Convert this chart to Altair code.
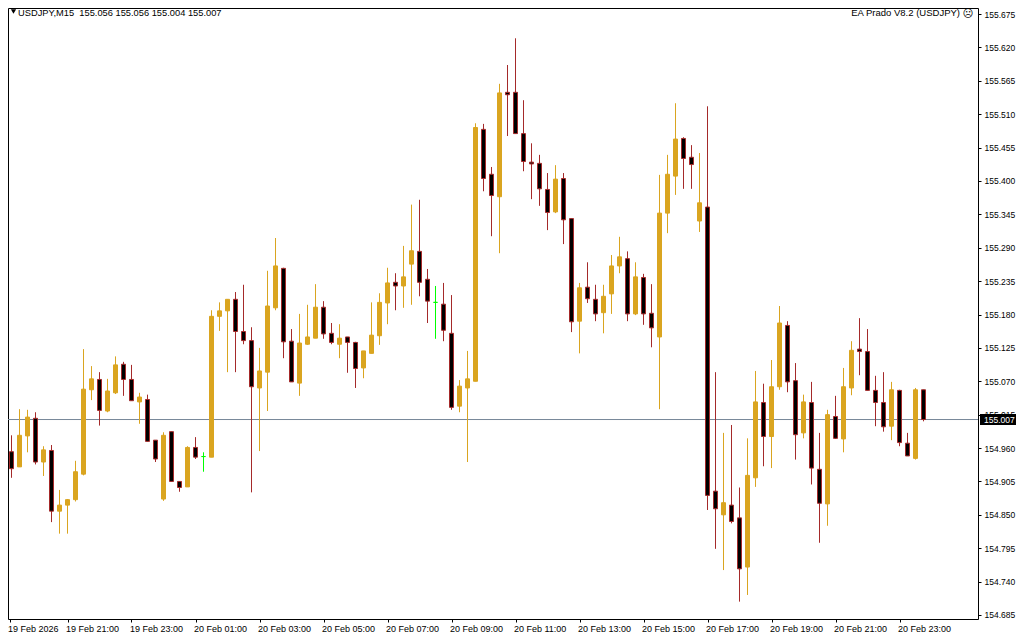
import altair as alt
import pandas as pd

opens = [154.957,154.954,154.929,154.980,155.009,154.937,154.956,154.856,154.866,154.875,
154.917,155.056,155.073,155.021,155.051,155.098,155.073,155.036,155.040,154.973,
154.876,154.987,154.905,154.896,154.961,154.946,154.945,155.177,155.186,155.205,
155.152,155.137,155.059,155.085,155.191,155.256,155.136,155.067,155.131,155.141,
155.192,155.149,155.131,155.143,155.134,155.092,155.116,155.145,155.199,155.233,
155.227,155.263,155.284,155.238,155.200,155.197,155.149,155.029,155.059,155.070,
155.485,155.411,155.374,155.546,155.546,155.478,155.431,155.429,155.386,155.349,
155.404,155.338,155.169,155.225,155.205,155.183,155.214,155.260,155.272,155.181,
155.241,155.182,155.143,155.347,155.408,155.470,155.439,155.334,155.357,154.889,
154.850,154.866,154.845,154.764,154.911,155.035,154.979,155.061,155.162,155.071,
154.985,155.035,154.925,154.868,155.012,154.975,155.059,155.123,155.119,155.055,
155.035,154.996,155.055,154.968,154.943,155.056]
closes = [154.953,154.926,154.981,155.011,154.937,154.957,154.856,154.866,154.875,154.921,
155.057,155.074,155.022,155.054,155.097,155.073,155.038,155.044,154.971,154.942,
154.981,154.905,154.895,154.961,154.945,154.946,155.177,155.186,155.205,155.152,
155.137,155.061,155.087,155.194,155.260,155.135,155.069,155.133,155.143,155.192,
155.148,155.134,155.141,155.134,155.091,155.120,155.146,155.200,155.232,155.227,
155.242,155.285,155.233,155.202,155.200,155.154,155.027,155.062,155.074,155.488,
155.404,155.376,155.545,155.542,155.478,155.432,155.428,155.387,155.348,155.403,
155.336,155.168,155.224,155.206,155.181,155.210,155.260,155.275,155.181,155.242,
155.181,155.158,155.347,155.411,155.469,155.437,155.427,155.364,154.882,154.860,
154.870,154.839,154.761,154.915,155.036,154.979,155.061,155.166,155.069,154.982,
155.036,154.927,154.869,155.015,154.976,155.061,155.121,155.119,155.055,155.035,
154.995,155.056,154.969,154.947,155.056,155.007]
highs = [154.984,154.981,155.024,155.023,155.019,154.963,154.965,154.891,154.876,154.939,
155.123,155.095,155.085,155.074,155.111,155.102,155.097,155.051,155.048,154.973,
154.986,154.987,154.905,154.963,154.978,154.953,155.187,155.200,155.205,155.217,
155.229,155.159,155.125,155.252,155.306,155.257,155.156,155.181,155.196,155.230,
155.202,155.166,155.164,155.143,155.135,155.120,155.200,155.215,155.257,155.248,
155.293,155.361,155.369,155.255,155.227,155.232,155.212,155.072,155.120,155.495,
155.494,155.423,155.560,155.591,155.635,155.533,155.462,155.443,155.413,155.426,
155.413,155.338,155.232,155.266,155.229,155.229,155.278,155.308,155.284,155.266,
155.247,155.230,155.410,155.443,155.528,155.472,155.459,155.446,155.523,155.085,
154.985,154.998,154.895,154.976,155.087,155.066,155.105,155.194,155.169,155.100,
155.048,155.069,154.985,155.023,155.046,155.092,155.136,155.174,155.156,155.079,
155.085,155.069,155.056,154.985,155.059,155.056]
lows = [154.927,154.911,154.929,154.953,154.933,154.914,154.838,154.819,154.819,154.872,
154.915,155.039,154.997,155.019,155.049,155.046,155.038,155.000,154.971,154.937,
154.873,154.905,154.888,154.896,154.942,154.921,154.945,155.153,155.085,155.085,
155.131,154.887,154.955,155.021,155.187,155.108,155.069,155.046,155.130,155.141,
155.140,155.131,155.108,155.084,155.059,155.075,155.116,155.130,155.164,155.187,
155.191,155.196,155.210,155.166,155.140,155.136,155.023,155.019,154.937,155.070,
155.383,155.309,155.281,155.474,155.478,155.416,155.370,155.359,155.319,155.347,
155.296,155.151,155.116,155.199,155.169,155.149,155.181,155.248,155.169,155.179,
155.163,155.126,155.024,155.314,155.377,155.387,155.387,155.316,154.858,154.794,
154.759,154.836,154.707,154.718,154.896,154.930,154.927,155.056,155.052,154.941,
154.976,154.900,154.804,154.832,154.975,154.953,155.047,155.080,155.055,154.996,
154.987,154.973,154.963,154.947,154.941,155.004]

price_ticks = [155.675,155.620,155.565,155.510,155.455,155.400,155.345,155.290,155.235,
155.180,155.125,155.070,155.015,154.960,154.905,154.850,154.795,154.740,154.685]
time_ticks = [0.75,8,16,24,32,40,48,56,64,72,80,88,96,104,112]
time_labels = ["19 Feb 2026","19 Feb 21:00","19 Feb 23:00","20 Feb 01:00","20 Feb 03:00",
"20 Feb 05:00","20 Feb 07:00","20 Feb 09:00","20 Feb 11:00","20 Feb 13:00","20 Feb 15:00",
"20 Feb 17:00","20 Feb 19:00","20 Feb 21:00","20 Feb 23:00"]
last_price = 155.007
title_left = "USDJPY,M15\u00a0\u00a0155.056 155.056 155.004 155.007"
title_right = "EA Prado V8.2 (USDJPY)"

FONT = "Liberation Sans"
GOLD, BROWN, LIME = "#DAA520", "#A52A2A", "#00FF00"

df = pd.DataFrame({"idx": range(len(opens)), "open": opens, "high": highs, "low": lows, "close": closes})
df["kind"] = ["bull" if c > o else "bear" if c < o else "doji" for o, c in zip(opens, closes)]

x_scale = alt.Scale(domain=[0.5625, 121.8125], nice=False, zero=False, padding=0)
x_axis = alt.Axis(values=time_ticks, title=None, grid=False, domain=False, tickSize=3, tickColor="black",
    labelExpr="[" + ",".join(f"'{t}'" for t in time_labels) + "][round(datum.value/8)]",
    labelAlign="left", labelBaseline="top", labelPadding=2, labelOffset=-2, labelFont=FONT,
    labelFontSize=9, labelColor="black", labelOverlap=False, labelFlush=False, labelBound=False)
y_scale = alt.Scale(domain=[154.6784, 155.6849], nice=False, zero=False)
y_axis = alt.Axis(orient="right", values=price_ticks, format=".3f", title=None, grid=False, domain=False,
    tickSize=3, tickColor="black", labelPadding=3, labelFont=FONT, labelFontSize=8.5, labelColor="black",
    labelOverlap=False, labelFlush=False, labelBound=False)
kind_scale = alt.Scale(domain=["bull", "bear", "doji"], range=[GOLD, BROWN, LIME])
fill_scale = alt.Scale(domain=["bull", "bear", "doji"], range=[GOLD, "#000000", LIME])

base = alt.Chart(df)
price_line = alt.Chart(pd.DataFrame({"p": [last_price]})).mark_rule(color="#778899", strokeWidth=1).encode(
    y=alt.Y("p:Q", scale=y_scale, axis=y_axis))
wicks = base.mark_rule(strokeWidth=1).encode(
    x=alt.X("idx:Q", scale=x_scale, axis=x_axis),
    y=alt.Y("low:Q", scale=y_scale, axis=y_axis), y2="high:Q",
    stroke=alt.Stroke("kind:N", scale=kind_scale, legend=None))
bodies = base.mark_bar(size=4, strokeWidth=1).encode(
    x=alt.X("idx:Q", scale=x_scale, axis=x_axis),
    y=alt.Y("open:Q", scale=y_scale, axis=y_axis), y2="close:Q",
    fill=alt.Fill("kind:N", scale=fill_scale, legend=None),
    stroke=alt.Stroke("kind:N", scale=kind_scale, legend=None))

tag_df = pd.DataFrame({"top": [155.016], "bot": [154.998], "p": [last_price], "label": [f"{last_price:.3f}"]})
tag = alt.Chart(tag_df).mark_rect(color="black").encode(
    x=alt.value(972), x2=alt.value(1008),
    y=alt.Y("top:Q", scale=y_scale, axis=y_axis), y2="bot:Q")
tag_text = alt.Chart(tag_df).mark_text(color="white", font=FONT, fontSize=8.5, align="left", baseline="middle").encode(
    x=alt.value(976), y=alt.Y("p:Q", scale=y_scale, axis=y_axis), text="label:N")

hdr = pd.DataFrame({"t": [title_left], "r": [title_right], "s": ["\u2639"]})
tri = alt.Chart(hdr).mark_point(shape="triangle-down", filled=True, color="black", size=28, opacity=1).encode(
    x=alt.value(5.5), y=alt.value(3.5))
left_t = alt.Chart(hdr).mark_text(font=FONT, fontSize=9.3, color="black", align="left", baseline="middle").encode(
    x=alt.value(10), y=alt.value(4.5), text="t:N")
right_t = alt.Chart(hdr).mark_text(font=FONT, fontSize=9.5, color="black", align="right", baseline="middle").encode(
    x=alt.value(952), y=alt.value(4.5), text="r:N")
smile = alt.Chart(hdr).mark_text(font="DejaVu Sans", fontSize=10.5, color="black", align="center", baseline="middle").encode(
    x=alt.value(960), y=alt.value(6), text="s:N")

chart = alt.layer(price_line, wicks, bodies, tag, tag_text, tri, left_t, right_t, smile).properties(
    width=970, height=611, background="white",
    autosize=alt.AutoSizeParams(type="none"),
    padding={"left": 0, "top": 0, "right": 38, "bottom": 14},
).configure_view(stroke="black", strokeWidth=1, fill="white")

chart.save("out.html", embed_options={"renderer": "svg", "actions": False})
